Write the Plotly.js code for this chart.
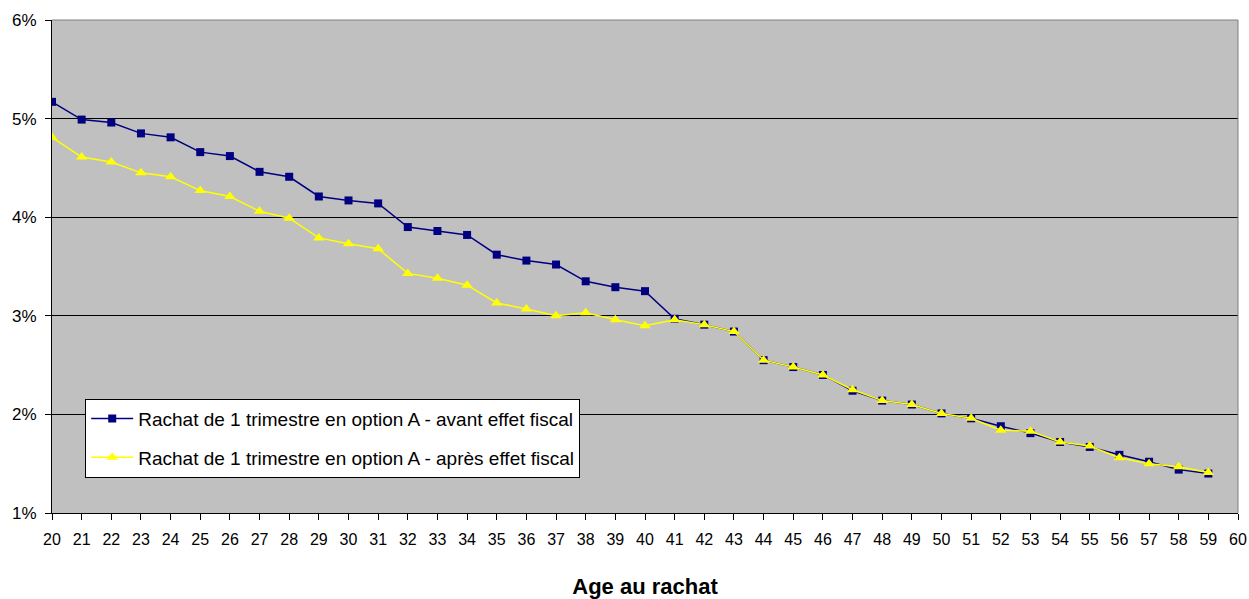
<!DOCTYPE html>
<html>
<head>
<meta charset="utf-8">
<script src="https://cdn.plot.ly/plotly-3.0.1.min.js"></script>
<style>
  html, body { margin: 0; padding: 0; background: #ffffff; }
  #chart { width: 1249px; height: 599px; }
</style>
</head>
<body>
<div id="chart"></div>
<script>
// Age at buyback (years)
const ages = [20,21,22,23,24,25,26,27,28,29,30,31,32,33,34,35,36,37,38,39,
              40,41,42,43,44,45,46,47,48,49,50,51,52,53,54,55,56,57,58,59];

// Rate (%) before tax effect
const avantEffetFiscal = [5.17,4.99,4.96,4.85,4.81,4.66,4.62,4.46,4.41,4.21,
                          4.17,4.14,3.90,3.86,3.82,3.62,3.56,3.52,3.35,3.29,
                          3.25,2.97,2.91,2.84,2.55,2.48,2.40,2.24,2.14,2.10,
                          2.01,1.96,1.88,1.81,1.72,1.67,1.59,1.52,1.44,1.40];

// Rate (%) after tax effect
const apresEffetFiscal = [4.81,4.61,4.56,4.45,4.41,4.27,4.21,4.06,3.99,3.79,
                          3.73,3.68,3.43,3.38,3.31,3.13,3.07,3.00,3.03,2.96,
                          2.90,2.96,2.91,2.84,2.55,2.48,2.40,2.25,2.14,2.10,
                          2.01,1.96,1.84,1.83,1.72,1.68,1.56,1.50,1.47,1.41];

const seriesNames = [
  "Rachat de 1 trimestre en option A - avant effet fiscal",
  "Rachat de 1 trimestre en option A - après effet fiscal"
];

const xTicks = [];
for (let a = 20; a <= 60; a++) xTicks.push(a);
const yTicks = [1,2,3,4,5,6];
const yTickText = yTicks.map(v => v + "%");

const traces = [
  {
    x: ages, y: avantEffetFiscal, name: seriesNames[0],
    type: "scatter", mode: "lines+markers", legendgroup: "a",
    line: { color: "#000080", width: 1.5 },
    marker: { symbol: "square", size: 8, color: "#000080" }
  },
  {
    x: ages, y: apresEffetFiscal, name: seriesNames[1],
    type: "scatter", mode: "lines+markers", legendgroup: "b",
    line: { color: "#FFFF00", width: 1.5 },
    marker: { symbol: "triangle-up", size: 10, color: "#FFFF00" }
  }
];

const layout = {
  width: 1249, height: 599,
  margin: { l: 52, r: 11, t: 20, b: 86 },
  paper_bgcolor: "#ffffff",
  plot_bgcolor: "#C0C0C0",
  font: { family: "Arial, 'Liberation Sans', sans-serif", size: 16, color: "#000000" },
  showlegend: true,
  legend: {
    x: 0.028, y: 0.232, xanchor: "left", yanchor: "top",
    bgcolor: "#ffffff", bordercolor: "#000000", borderwidth: 1,
    font: { size: 19, color: "#000000" },
    itemwidth: 42,
    traceorder: "grouped", tracegroupgap: 11
  },
  xaxis: {
    range: [20, 60], tickvals: xTicks, ticktext: xTicks.map(String),
    showgrid: false, zeroline: false,
    ticks: "outside", ticklen: 6, tickcolor: "#000000",
    ticklabelstandoff: 6,
    showline: true, linecolor: "#000000", linewidth: 1,
    tickfont: { size: 16 },
    title: { text: "Age au rachat", font: { size: 22, color: "#000000", weight: "bold" }, standoff: 35 }
  },
  yaxis: {
    range: [1, 6], tickvals: yTicks, ticktext: yTickText,
    showgrid: true, gridcolor: "#000000", gridwidth: 1,
    zeroline: false,
    ticks: "outside", ticklen: 6, tickcolor: "#000000",
    ticklabelstandoff: 5,
    showline: true, linecolor: "#000000", linewidth: 1,
    tickfont: { size: 17 }
  },
  shapes: [
    // plot area frame on top and right
    { type: "line", xref: "paper", yref: "paper", x0: 0, x1: 1, y0: 1, y1: 1,
      line: { color: "#808080", width: 1 } },
    { type: "line", xref: "paper", yref: "paper", x0: 1, x1: 1, y0: 0, y1: 1,
      line: { color: "#808080", width: 1 } }
  ]
};

Plotly.newPlot("chart", traces, layout, { displayModeBar: false, staticPlot: true });
</script>
</body>
</html>
